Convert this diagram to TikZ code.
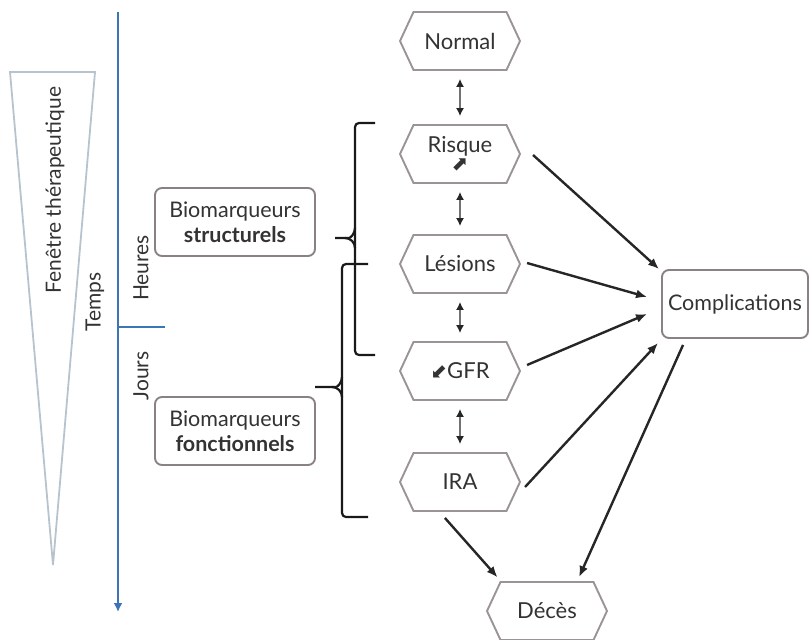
\documentclass[tikz,border=0pt]{standalone}
\usepackage{fontspec}
\setmainfont{Lato}
\newfontfamily\symfont{DejaVu Sans}
\usetikzlibrary{arrows.meta,positioning,shapes.symbols,calc}
\definecolor{axisblue}{HTML}{3D74B5}
\definecolor{hexgray}{HTML}{9B9494}
\definecolor{boxgray}{HTML}{8A8282}
\definecolor{conegray}{HTML}{B7C4CE}
\definecolor{txtgray}{HTML}{333333}
\tikzset{
  bio/stage/.style={draw=hexgray, line width=1.9pt, signal, signal to=east and west,
    signal pointer angle=130, minimum width=120pt, minimum height=58pt, inner sep=2pt,
    align=center, text=txtgray, font=\fontsize{22}{24}\selectfont},
  bio/box/.style={draw=boxgray, line width=1.9pt, rounded corners=7pt, minimum width=160pt,
    minimum height=68pt, inner xsep=3pt, align=center, text=txtgray, font=\fontsize{21.5}{25}\selectfont},
  bio/label/.style={rotate=90, text=txtgray, font=\fontsize{21}{24}\selectfont},
  bio/arr/.style={-{Latex[length=11pt,width=9pt]}, line width=2.4pt, black!85},
  bio/dbl/.style={{Latex[length=8pt,width=8pt]}-{Latex[length=8pt,width=8pt]}, line width=1.3pt,
    black!85, shorten >=8pt, shorten <=8pt},
  bio/brace/.style={line width=2.2pt, black!90, rounded corners=4pt},
  bio/axis/.style={axisblue, line width=1.8pt}
}
\begin{document}
\begin{tikzpicture}[x=1pt, y=-1pt]
  \useasboundingbox (0,0) rectangle (809,640);

  \draw[conegray, line width=1.8pt, line join=miter] (10,72) -- (95,72) -- (53,565) -- cycle;
  \node[bio/label] (fenetre) at (55,190) {Fenêtre thérapeutique};

  \coordinate (ttop) at (118,12);
  \coordinate (tbot) at (118,612);
  \coordinate (tick) at (118,327);
  \draw[bio/axis, -{Latex[length=9pt,width=9pt]}] (ttop) -- (tbot);
  \draw[bio/axis] (tick) -- ++(47,0);
  \node[bio/label] (temps) at (95,302) {Temps};
  \node[bio/label] (heures) at (141,268) {Heures};
  \node[bio/label] (jours) at (141,376) {Jours};

  \node[bio/stage] (normal) at (460,41) {Normal};
  \node[bio/stage] (risque) at (460,154) {Risque\\[-6pt]{\symfont\fontsize{20}{18}\selectfont ⬈}};
  \node[bio/stage] (lesions) at (460,264) {Lésions};
  \node[bio/stage] (gfr) at (460,371) {{\symfont\fontsize{20}{20}\selectfont ⬋}GFR};
  \node[bio/stage] (ira) at (460,482) {IRA};
  \node[bio/stage] (deces) at (547,611) {Décès};

  \draw[bio/dbl] (normal) -- (risque);
  \draw[bio/dbl] (risque) -- (lesions);
  \draw[bio/dbl] (lesions) -- (gfr);
  \draw[bio/dbl] (gfr) -- (ira);

  \node[bio/box, minimum width=146pt] (compl) at (735,304) {Complications};
  \node[bio/box] (struct) at (235,222) {Biomarqueurs\\\textbf{structurels}};
  \node[bio/box] (fonct) at (235,431) {Biomarqueurs\\\textbf{fonctionnels}};

  \draw[bio/brace] (375,123) -- (355,123) -- (355,355) -- (375,355);
  \draw[bio/brace] (355,228) to[out=270,in=0] (345,238) -- (335,238);
  \draw[bio/brace] (355,248) to[out=90,in=0] (345,238);
  \draw[bio/brace] (368,264) -- (342,264) -- (342,517) -- (368,517);
  \draw[bio/brace] (342,377) to[out=270,in=0] (332,387) -- (315,387);
  \draw[bio/brace] (342,397) to[out=90,in=0] (332,387);

  \draw[bio/arr] ($(risque.east)+(12,1)$) -- ($(compl.north west)+(-2,0)$);
  \draw[bio/arr] ($(lesions.east)+(6,-1)$) -- ($(compl.west)+(-14,-7)$);
  \draw[bio/arr] ($(gfr.east)+(6,-6)$) -- ($(compl.west)+(-14,10)$);
  \draw[bio/arr] ($(ira.east)+(4,5)$) -- ($(compl.south west)+(-3,4)$);
  \draw[bio/arr] ($(compl.south west)+(22,6)$) -- ($(deces.north east)+(-15,-4)$);
  \draw[bio/arr] ($(ira.south west)+(32,6)$) -- ($(deces.north west)+(-2,-4)$);
\end{tikzpicture}
\end{document}
